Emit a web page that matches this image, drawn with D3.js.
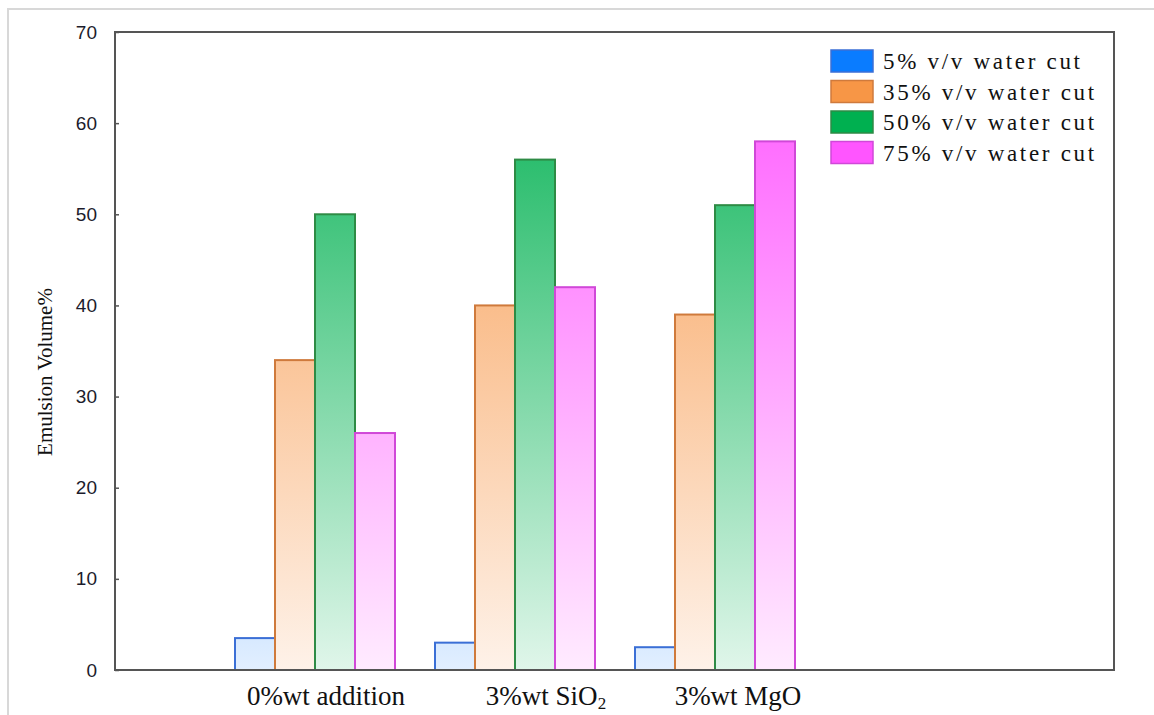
<!DOCTYPE html>
<html>
<head>
<meta charset="utf-8">
<script src="https://cdn.jsdelivr.net/npm/d3@7"></script>
<style>
  html, body { margin: 0; padding: 0; background: #fff; }
  svg { display: block; }
</style>
</head>
<body>
<svg id="chart" width="1154" height="715"></svg>
<script>
// ---- data ----
const categories = ["0%wt addition", "3%wt SiO2", "3%wt MgO"];
const seriesNames = ["5% v/v water cut", "35% v/v water cut", "50% v/v water cut", "75% v/v water cut"];
const wc5  = [3.5, 3.0, 2.5];
const wc35 = [34, 40, 39];
const wc50 = [50, 56, 51];
const wc75 = [26, 42, 58];
const yTicks = [0, 10, 20, 30, 40, 50, 60, 70];

const seriesValues = [wc5, wc35, wc50, wc75];
const fillColors = ["#0a7cff", "#f79646", "#00b050", "#ff55ff"];
const strokeColors = ["#3b6fd6", "#cf7a3c", "#2e8b45", "#d048d8"];

// ---- layout ----
const svg = d3.select("#chart");
const mLeft = 115, mRight = 1115, mTop = 32, mBottom = 670;
const labelDx = [11, 31, 23]; // hand-placed label offsets in the original

const x = d3.scaleLinear().domain([0, 5]).range([mLeft, mRight]);
const y = d3.scaleLinear().domain([0, 70]).range([mBottom, mTop]);

// outer light border
svg.append("rect")
  .attr("x", 8).attr("y", 9).attr("width", 1160).attr("height", 720)
  .attr("fill", "none").attr("stroke", "#d8d8d8").attr("stroke-width", 2);

// gradients
const defs = svg.append("defs");
fillColors.forEach((c, j) => {
  const g = defs.append("linearGradient")
    .attr("id", "grad" + j)
    .attr("gradientUnits", "userSpaceOnUse")
    .attr("x1", 0).attr("x2", 0)
    .attr("y1", y(70)).attr("y2", y(0));
  g.append("stop").attr("offset", "0%").attr("stop-color", c);
  g.append("stop").attr("offset", "100%").attr("stop-color", d3.interpolateRgb(c, "#ffffff")(0.88));
});

// bars
const barW = x(0.2) - x(0);
categories.forEach((cat, i) => {
  const pos = i + 1;
  seriesValues.forEach((vals, j) => {
    const v = vals[i];
    svg.append("rect")
      .attr("x", x(pos - 0.4 + j * 0.2))
      .attr("y", y(v))
      .attr("width", barW)
      .attr("height", y(0) - y(v))
      .attr("fill", `url(#grad${j})`)
      .attr("stroke", strokeColors[j])
      .attr("stroke-width", 2);
  });
});

// frame
svg.append("rect")
  .attr("x", mLeft).attr("y", mTop)
  .attr("width", mRight - 1 - mLeft).attr("height", mBottom - mTop)
  .attr("fill", "none").attr("stroke", "#555").attr("stroke-width", 2);

// y axis
const yAxis = d3.axisLeft(y).tickValues(yTicks).tickSize(-4).tickPadding(18).tickFormat(d3.format("d"));
const ya = svg.append("g").attr("transform", `translate(${mLeft},0)`).call(yAxis);
ya.select(".domain").remove();
ya.selectAll(".tick line").attr("stroke", "#555").attr("stroke-width", 1.5);
ya.selectAll(".tick text")
  .attr("fill", "#1c1c2c")
  .style("font-family", "'Liberation Sans', Arial, sans-serif")
  .style("font-size", "19px");

// y title
svg.append("text")
  .attr("transform", `translate(52, ${(mTop + mBottom) / 2 + 21}) rotate(-90)`)
  .attr("text-anchor", "middle")
  .style("font-family", "'Liberation Serif', 'Times New Roman', serif")
  .style("font-size", "21px")
  .attr("fill", "#111")
  .text("Emulsion Volume%");

// x labels
categories.forEach((cat, i) => {
  const t = svg.append("text")
    .attr("x", x(i + 1) + labelDx[i])
    .attr("y", 705)
    .attr("text-anchor", "middle")
    .style("font-family", "'Liberation Serif', 'Times New Roman', serif")
    .style("font-size", "27px")
    .attr("fill", "#111");
  const m = cat.match(/^(.*?)(\d)$/);
  if (cat.includes("SiO2") && m) {
    t.append("tspan").text(m[1]);
    t.append("tspan").attr("dy", 4).style("font-size", "17px").text(m[2]);
  } else {
    t.text(cat);
  }
});

// legend
const legend = svg.append("g");
seriesNames.forEach((name, j) => {
  const ly = 50 + j * 30.5;
  legend.append("rect")
    .attr("x", 831).attr("y", ly)
    .attr("width", 42).attr("height", 22)
    .attr("fill", fillColors[j])
    .attr("stroke", strokeColors[j])
    .attr("stroke-width", 1.5);
  legend.append("text")
    .attr("x", 883).attr("y", ly + 19)
    .style("font-family", "'Liberation Serif', 'Times New Roman', serif")
    .style("font-size", "23px")
    .style("letter-spacing", "2.7px")
    .attr("fill", "#111")
    .text(name);
});
</script>
</body>
</html>
